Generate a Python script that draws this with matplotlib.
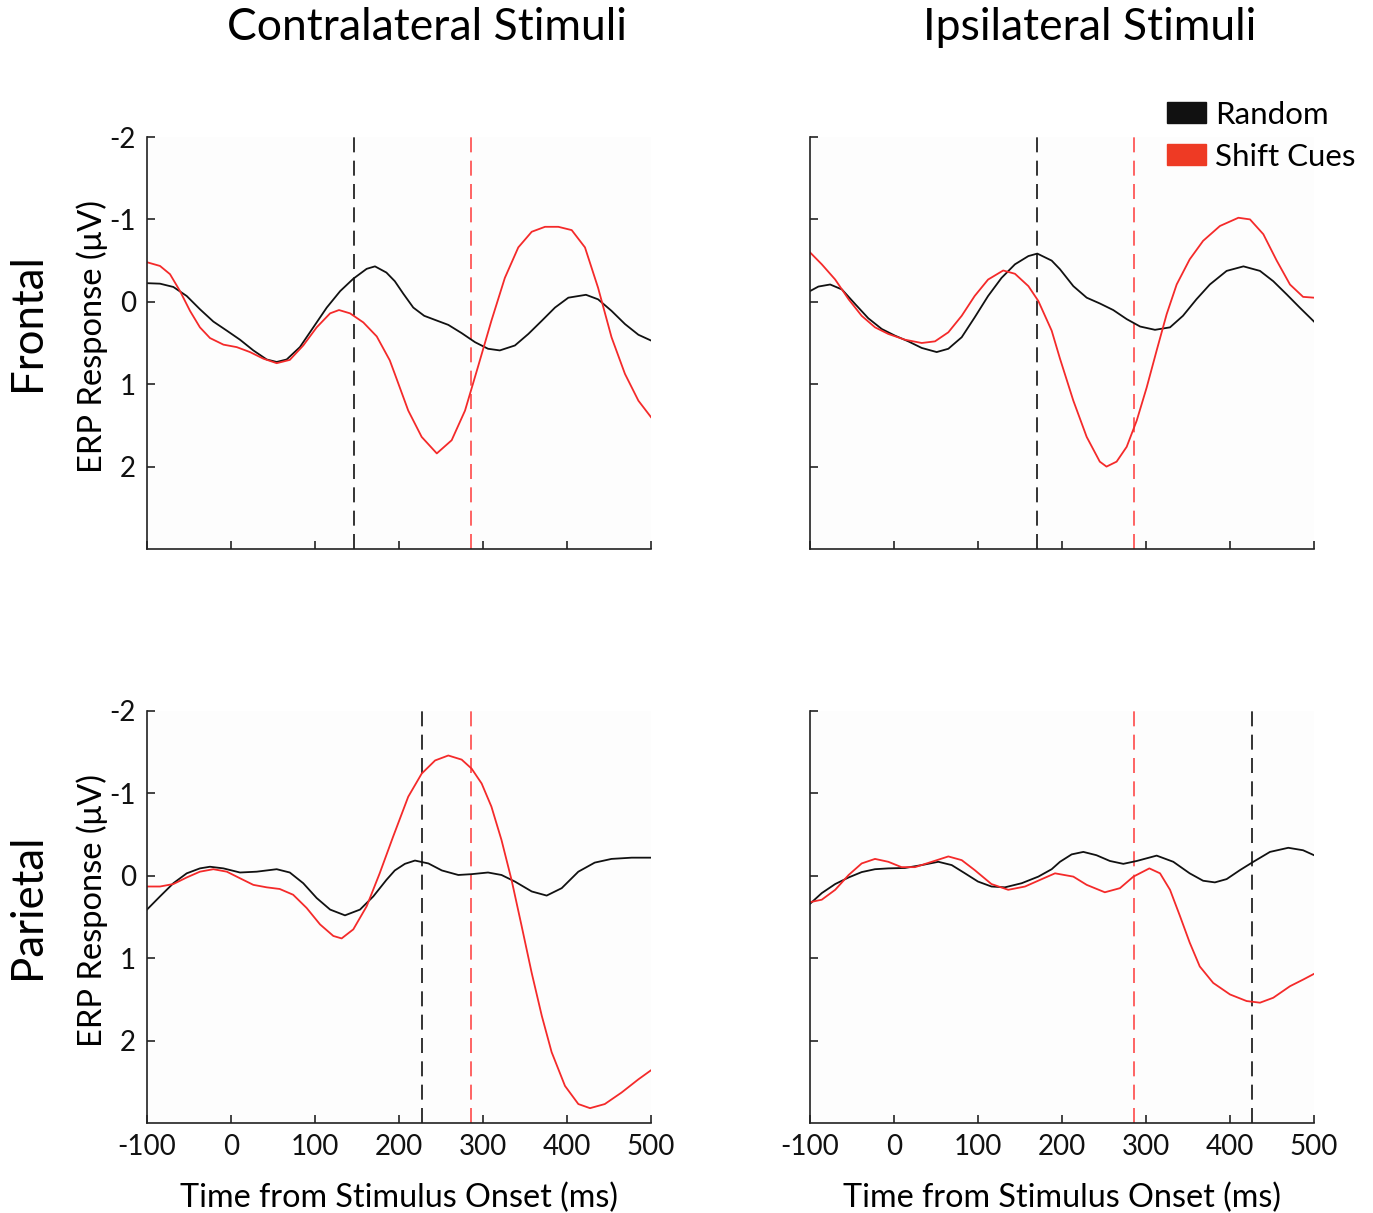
import matplotlib
matplotlib.use("Agg")
import matplotlib.pyplot as plt
from matplotlib.patches import Patch

plt.rcParams['font.family'] = ['Lato', 'DejaVu Sans']

# ---------------- data ----------------
cols = ["Contralateral Stimuli", "Ipsilateral Stimuli"]
rows = ["Frontal", "Parietal"]
legend_labels = ["Random", "Shift Cues"]
xticks = [-100, 0, 100, 200, 300, 400, 500]
yticks = [-2, -1, 0, 1, 2]

# Frontal / Contralateral
fc_rand_t = [-100, -84.5, -68.6, -52.7, -37, -21, -5, 10.7, 26.6, 42.5, 54.4, 66.3, 82, 98, 114, 130, 145.6, 161.5, 171.4, 185,
             195, 205, 217, 230, 243, 258.7, 274.6, 290.5, 306, 320, 338, 354, 370, 385.7, 401.6, 422.6, 437, 453, 469, 485, 500]
fc_rand_v = [-0.226, -0.22, -0.18, -0.07, 0.09, 0.24, 0.35, 0.46, 0.59, 0.70, 0.73, 0.70, 0.55, 0.31, 0.07, -0.13, -0.28, -0.40, -0.43, -0.355,
             -0.25, -0.10, 0.07, 0.17, 0.22, 0.28, 0.38, 0.49, 0.57, 0.59, 0.53, 0.39, 0.23, 0.07, -0.05, -0.085, -0.03, 0.11, 0.27, 0.40, 0.47]
fc_shift_t = [-100, -84.5, -72.6, -60.7, -48.8, -37, -25, -9, 6.8, 22.6, 38.5, 54.4, 70, 86, 102, 118, 128.6, 141.7, 157.5, 173.5, 189,
              195, 211, 227, 245, 262.7, 278.6, 294, 310, 326, 342, 358, 373.8, 389.7, 405.6, 421.4, 437, 453, 469, 485, 500]
fc_shift_v = [-0.48, -0.435, -0.335, -0.13, 0.11, 0.31, 0.44, 0.52, 0.55, 0.61, 0.69, 0.745, 0.705, 0.53, 0.31, 0.14, 0.10, 0.14, 0.25, 0.42, 0.71,
              0.875, 1.32, 1.64, 1.84, 1.68, 1.32, 0.79, 0.23, -0.29, -0.66, -0.85, -0.91, -0.91, -0.87, -0.66, -0.17, 0.43, 0.875, 1.20, 1.40]

# Frontal / Ipsilateral
fi_rand_t = [-100, -90, -76, -62, -46, -30.6, -14.6, 1, 17, 33, 50.8, 64.7, 80.6, 96, 112, 128, 144, 160, 170.6, 187.7,
             197.6, 213.5, 229.4, 245, 261, 277, 293, 310.7, 328.6, 344, 360, 376, 396, 416, 435.7, 451.5, 467.5, 483, 500]
fi_rand_v = [-0.13, -0.185, -0.21, -0.15, 0.03, 0.20, 0.33, 0.41, 0.48, 0.56, 0.61, 0.57, 0.43, 0.19, -0.07, -0.29, -0.455, -0.555, -0.585, -0.50,
             -0.395, -0.19, -0.05, 0.02, 0.10, 0.21, 0.30, 0.34, 0.31, 0.17, -0.03, -0.21, -0.375, -0.43, -0.375, -0.25, -0.09, 0.07, 0.24]
fi_shift_t = [-100, -86, -70, -54, -38.5, -22.6, -6.8, 13, 33, 48.8, 64.7, 80.6, 96, 112, 130, 144, 160, 171.8, 187.7,
              197.6, 213.5, 229.4, 245, 253, 265, 277, 289, 300.8, 312.7, 324.6, 336.5, 352, 368, 388, 410, 423.8, 439.7, 455.6, 471.4, 487, 500]
fi_shift_v = [-0.60, -0.455, -0.27, -0.03, 0.17, 0.31, 0.39, 0.46, 0.50, 0.48, 0.37, 0.17, -0.07, -0.27, -0.38, -0.34, -0.19, -0.01, 0.35,
              0.69, 1.20, 1.64, 1.94, 2.00, 1.94, 1.76, 1.44, 1.04, 0.59, 0.15, -0.21, -0.515, -0.74, -0.92, -1.02, -1.00, -0.82, -0.50, -0.21, -0.06, -0.05]

# Parietal / Contralateral
pc_rand_t = [-100, -84.5, -68.6, -52.7, -37, -25, -9, 10.7, 30.6, 54.4, 70, 86, 102, 118, 135.7, 153.6, 169.4, 185,
             195, 207, 219, 235, 251, 270.6, 286.5, 306, 322, 338, 358, 375.8, 393.7, 413.5, 433, 453, 477, 500]
pc_rand_v = [0.41, 0.25, 0.09, -0.03, -0.09, -0.11, -0.09, -0.04, -0.05, -0.08, -0.04, 0.09, 0.27, 0.41, 0.48, 0.41, 0.25, 0.05,
             -0.065, -0.145, -0.185, -0.15, -0.065, -0.01, -0.02, -0.04, -0.01, 0.07, 0.19, 0.24, 0.15, -0.05, -0.16, -0.205, -0.22, -0.22]
pc_shift_t = [-100, -84.5, -68.6, -52.7, -37, -21, -5, 10.7, 26.6, 42.5, 58, 74, 90, 106, 121.8, 131.7, 145.6, 161.5, 177, 193,
              211, 227, 243, 258.7, 274.6, 286.5, 298.4, 310, 322, 334, 346, 358, 370, 381.7, 397.6, 413.5, 427.4, 445, 465, 485, 500]
pc_shift_v = [0.13, 0.13, 0.10, 0.02, -0.05, -0.08, -0.05, 0.03, 0.11, 0.14, 0.16, 0.23, 0.39, 0.59, 0.73, 0.76, 0.65, 0.37, -0.03, -0.475,
              -0.96, -1.24, -1.40, -1.46, -1.41, -1.30, -1.12, -0.84, -0.435, 0.05, 0.61, 1.18, 1.70, 2.14, 2.55, 2.77, 2.82, 2.77, 2.63, 2.47, 2.36]

# Parietal / Ipsilateral
pi_rand_t = [-100, -86, -70, -54, -38.5, -22.6, -6.8, 13, 33, 52.8, 68.7, 84.5, 100, 116, 132, 152, 171.8, 187.7,
             197.6, 211.5, 225.4, 241, 257, 273, 289, 312.7, 332.5, 352, 368, 382, 396, 412, 427.8, 447.6, 469.4, 487, 500]
pi_rand_v = [0.34, 0.21, 0.10, 0.02, -0.045, -0.08, -0.09, -0.095, -0.13, -0.17, -0.13, -0.03, 0.07, 0.13, 0.14, 0.09, 0.01, -0.08,
             -0.17, -0.26, -0.29, -0.25, -0.18, -0.145, -0.18, -0.245, -0.17, -0.03, 0.06, 0.08, 0.04, -0.07, -0.17, -0.29, -0.34, -0.31, -0.25]
pi_shift_t = [-100, -86, -70, -54, -38.5, -22.6, -6.8, 9, 25, 45, 64.7, 80.6, 96, 116, 136, 156, 176, 191.7,
              213.5, 229.4, 251, 269, 285, 304, 316.7, 328.6, 340.5, 352, 364, 380, 400, 419.8, 435.7, 451.5, 471.4, 487, 500]
pi_shift_v = [0.32, 0.29, 0.17, -0.01, -0.15, -0.205, -0.17, -0.105, -0.105, -0.17, -0.235, -0.19, -0.07, 0.10, 0.17, 0.13, 0.04, -0.03,
              0.01, 0.11, 0.20, 0.15, 0.01, -0.09, -0.03, 0.17, 0.49, 0.81, 1.10, 1.30, 1.44, 1.52, 1.54, 1.48, 1.34, 1.26, 1.19]

# dashed marker latencies (ms): [Random, Shift Cues]
fc_marks = [146, 286]
fi_marks = [170, 286]
pc_marks = [227, 286]
pi_marks = [426, 286]

# ---------------- figure ----------------
W, H = 1373, 1213
fig = plt.figure(figsize=(W / 100, H / 100), dpi=100)

BLACK = "#111111"
RED = "#f42a2a"
RED_DASH = "#ff4a4a"
LEG_RED = "#ee3a24"

def axrect(x0, y0, x1, y1):
    return [x0 / W, 1 - y1 / H, (x1 - x0) / W, (y1 - y0) / H]

panels = [
    (axrect(147, 137, 651, 549), fc_rand_t, fc_rand_v, fc_shift_t, fc_shift_v, fc_marks, True, False),
    (axrect(810, 137, 1314, 549), fi_rand_t, fi_rand_v, fi_shift_t, fi_shift_v, fi_marks, False, False),
    (axrect(147, 711, 651, 1123), pc_rand_t, pc_rand_v, pc_shift_t, pc_shift_v, pc_marks, True, True),
    (axrect(810, 711, 1314, 1123), pi_rand_t, pi_rand_v, pi_shift_t, pi_shift_v, pi_marks, False, True),
]

for rect, rt, rv, st, sv, marks, ylab, xlab in panels:
    ax = fig.add_axes(rect)
    ax.set_facecolor("#fdfdfd")
    ax.axvline(marks[0], color=BLACK, lw=1.2, dashes=(9, 5))
    ax.axvline(marks[1], color=RED_DASH, lw=1.2, dashes=(9, 5))
    ax.plot(rt, rv, color=BLACK, lw=1.3, solid_joinstyle="round")
    ax.plot(st, sv, color=RED, lw=1.3, solid_joinstyle="round")
    ax.set_xlim(-100, 500)
    ax.set_ylim(3, -2)
    ax.set_xticks(xticks)
    ax.set_yticks(yticks)
    for s in ("top", "right"):
        ax.spines[s].set_visible(False)
    for s in ("left", "bottom"):
        ax.spines[s].set_linewidth(1.2)
        ax.spines[s].set_color("#222222")
    ax.tick_params(direction="in", length=6, width=1.1, labelsize=20, pad=8, colors="#111111")
    if ylab:
        ax.set_yticklabels([str(v) for v in yticks])
        ax.set_ylabel("ERP Response (\u03bcV)", fontsize=23.5)
        ax.yaxis.set_label_coords(-0.077, 0.515)
    else:
        ax.set_yticklabels([])
    if xlab:
        ax.set_xticklabels([str(v) for v in xticks])
        ax.set_xlabel("Time from Stimulus Onset (ms)", fontsize=23.3, labelpad=16)
    else:
        ax.set_xticklabels([])

fig.text(427 / W, 1 - 27 / H, cols[0], ha="center", va="center", fontsize=32)
fig.text(1090 / W, 1 - 27 / H, cols[1], ha="center", va="center", fontsize=32)
fig.text(28 / W, 1 - 322 / H, rows[0], ha="center", va="center", fontsize=31.5, rotation=90)
fig.text(28 / W, 1 - 906 / H, rows[1], ha="center", va="center", fontsize=31.5, rotation=90)

handles = [Patch(facecolor=BLACK, edgecolor=BLACK), Patch(facecolor=LEG_RED, edgecolor=LEG_RED)]
fig.legend(handles, legend_labels, loc="upper right", bbox_to_anchor=(1368 / W, 1 - 88 / H),
           frameon=False, fontsize=22.5, handlelength=1.25, handleheight=0.65,
           handletextpad=0.3, labelspacing=0.45, borderaxespad=0)

fig.savefig("out.png", dpi=100)
